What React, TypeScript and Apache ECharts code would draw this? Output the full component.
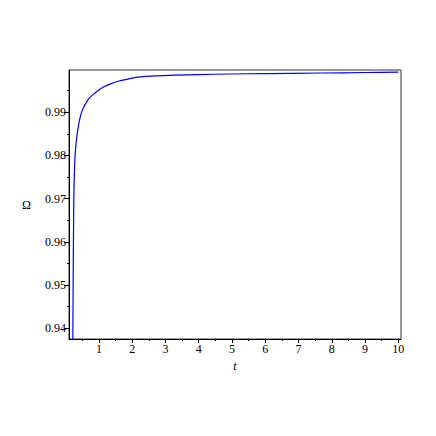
import React, { useEffect, useRef } from "react";
import * as echarts from "echarts";

const tValues = [0.2, 0.215, 0.225, 0.235, 0.245, 0.26, 0.275, 0.29, 0.31, 0.33, 0.35, 0.38, 0.42, 0.47, 0.53, 0.6, 0.7, 0.82, 0.97, 1.15, 1.35, 1.6, 1.9, 2.24, 2.7, 3.3, 4, 4.95, 6, 7.66, 9, 10];
const omegaValues = [0.925, 0.9375, 0.951, 0.962, 0.97, 0.9755, 0.9788, 0.9808, 0.9826, 0.984, 0.9852, 0.9867, 0.9883, 0.9898, 0.991, 0.992, 0.9932, 0.9941, 0.995, 0.9959, 0.9966, 0.99725, 0.99775, 0.9982, 0.99845, 0.99862, 0.99875, 0.99887, 0.99898, 0.9991, 0.99922, 0.99933];

const xMajorTicks = [1, 2, 3, 4, 5, 6, 7, 8, 9, 10];
const xMinorTicks = [0.5, 1.5, 2.5, 3.5, 4.5, 5.5, 6.5, 7.5, 8.5, 9.5];
const yMajorTicks = [0.94, 0.95, 0.96, 0.97, 0.98, 0.99];
const yMinorTicks = [0.945, 0.955, 0.965, 0.975, 0.985, 0.995];

const X_MIN = 0.1;
const X_MAX = 10.08;
const Y_MIN = 0.9375;
const Y_MAX = 0.9998;

const FONT = "Liberation Serif";

export default function App() {
  const ref = useRef<HTMLDivElement>(null);
  useEffect(() => {
    if (!ref.current) return;
    const chart = echarts.init(ref.current, null, { renderer: "svg" });
    const axisLine = { show: true, lineStyle: { color: "#000", width: 1 } };
    chart.setOption({
      animation: false,
      backgroundColor: "#fff",
      textStyle: { fontFamily: FONT },
      grid: {
        left: 69,
        right: 35,
        top: 70,
        bottom: 97,
        show: true,
        borderColor: "#333",
        borderWidth: 1,
        backgroundColor: "transparent",
      },
      xAxis: [
        {
          type: "value",
          min: X_MIN,
          max: X_MAX,
          position: "bottom",
          axisLine,
          splitLine: { show: false },
          axisTick: { show: true, length: 4, customValues: xMajorTicks, lineStyle: { color: "#000" } },
          axisLabel: {
            show: true,
            customValues: xMajorTicks,
            color: "#000",
            fontFamily: FONT,
            fontSize: 12,
            margin: 4,
            formatter: (v: number) => String(Math.round(v)),
          },
          name: "t",
          nameLocation: "middle",
          nameGap: 17,
          nameTextStyle: { color: "#000", fontFamily: FONT, fontStyle: "italic", fontSize: 12 },
        },
        {
          type: "value",
          min: X_MIN,
          max: X_MAX,
          position: "bottom",
          axisLine: { show: false },
          splitLine: { show: false },
          axisTick: { show: true, length: 2, customValues: xMinorTicks, lineStyle: { color: "#000" } },
          axisLabel: { show: false },
        },
      ],
      yAxis: [
        {
          type: "value",
          min: Y_MIN,
          max: Y_MAX,
          position: "left",
          axisLine,
          splitLine: { show: false },
          axisTick: { show: true, length: 5, customValues: yMajorTicks, lineStyle: { color: "#000" } },
          axisLabel: {
            show: true,
            customValues: yMajorTicks,
            color: "#000",
            fontFamily: FONT,
            fontSize: 12,
            margin: 3,
            formatter: (v: number) => v.toFixed(2),
          },
          name: "Ω",
          nameLocation: "middle",
          nameRotate: 0,
          nameGap: 38,
          nameTextStyle: { color: "#000", fontFamily: FONT, fontSize: 12 },
        },
        {
          type: "value",
          min: Y_MIN,
          max: Y_MAX,
          position: "left",
          axisLine: { show: false },
          splitLine: { show: false },
          axisTick: { show: true, length: 2, customValues: yMinorTicks, lineStyle: { color: "#000" } },
          axisLabel: { show: false },
        },
      ],
      series: [
        {
          type: "line",
          xAxisIndex: 0,
          yAxisIndex: 0,
          data: tValues.map((t, i) => [t, omegaValues[i]]),
          showSymbol: false,
          smooth: 0.3,
          clip: true,
          lineStyle: { color: "#0000ff", width: 1.2 },
        },
      ],
    });
    return () => chart.dispose();
  }, []);
  return (
    <div
      ref={ref}
      style={{ position: "fixed", left: 0, top: 0, width: 436, height: 436, background: "#fff" }}
    />
  );
}
